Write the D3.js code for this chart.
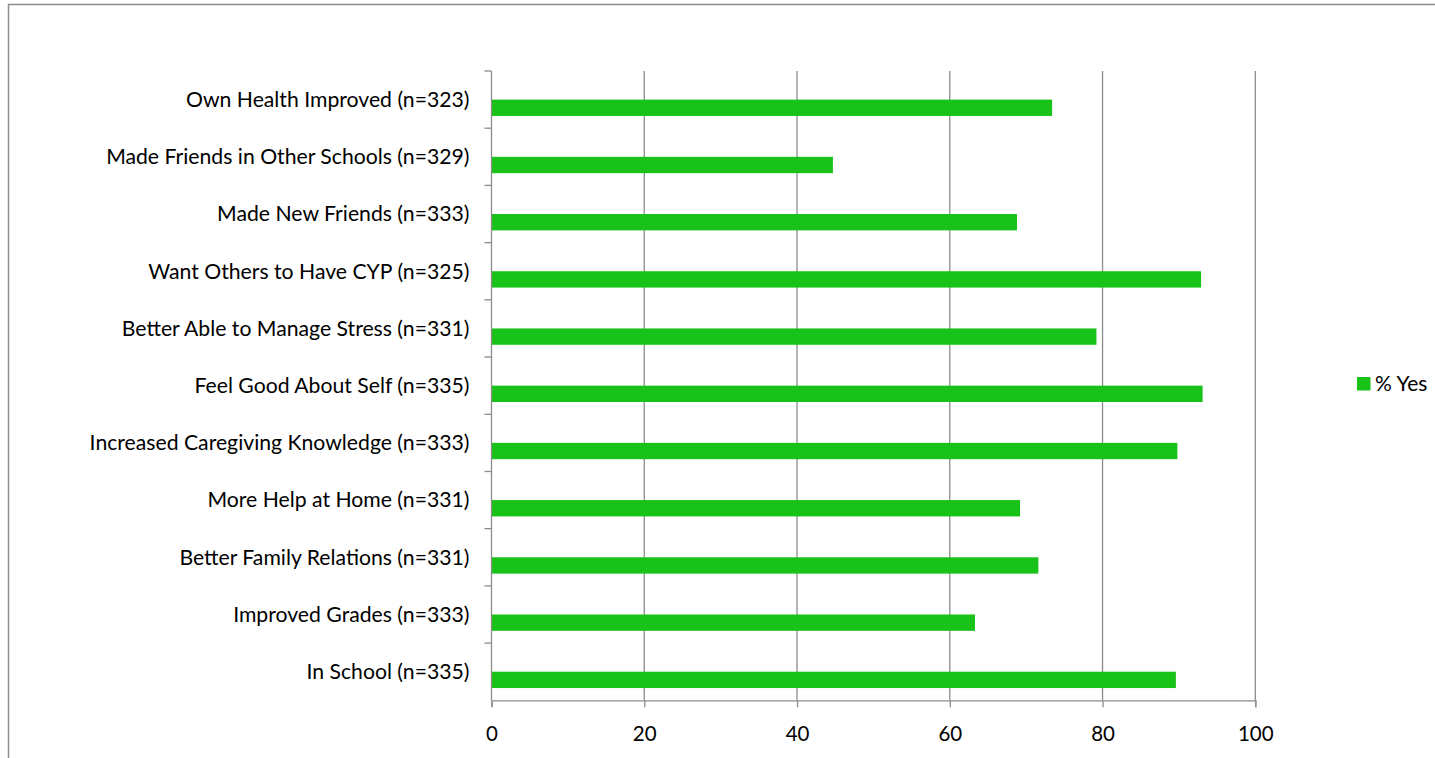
<!DOCTYPE html>
<html>
<head>
<meta charset="utf-8">
<script src="https://cdn.jsdelivr.net/npm/d3@7"></script>
<style>
  body { margin: 0; background: #fff; }
  text { font-family: Lato, 'Open Sans', sans-serif; fill: #000; }
</style>
</head>
<body>
<svg id="chart" width="1435" height="758"></svg>
<script>
// categories top to bottom, as in the picture
const categories = [
  'Own Health Improved (n=323)',
  'Made Friends in Other Schools (n=329)',
  'Made New Friends (n=333)',
  'Want Others to Have CYP (n=325)',
  'Better Able to Manage Stress (n=331)',
  'Feel Good About Self (n=335)',
  'Increased Caregiving Knowledge (n=333)',
  'More Help at Home (n=331)',
  'Better Family Relations (n=331)',
  'Improved Grades (n=333)',
  'In School (n=335)'
]
const yesValues = [73.4, 44.7, 68.8, 92.9, 79.2, 93.1, 89.8, 69.2, 71.6, 63.3, 89.6]
// the source chart had an empty first series, that is why the bar sits low in its slot
const seriesNames = ['', '% Yes']
const xTicks = [0, 20, 40, 60, 80, 100]

const green = '#19c219'
const grey = '#8c8c8c'

const svg = d3.select('#chart')

// outer chart border (only top and left show)
svg.append('rect')
  .attr('x', 8.5).attr('y', 4.5)
  .attr('width', 1460).attr('height', 800)
  .attr('fill', 'none').attr('stroke', grey).attr('stroke-width', 1.5)

const plotLeft = 491.5
const plotRight = 1255.3
const plotTop = 71
const plotBottom = 700.3

const x = d3.scaleLinear().domain([0, 100]).range([plotLeft, plotRight])
const y = d3.scaleBand().domain(categories).range([plotTop, plotBottom]).paddingInner(0).paddingOuter(0)
const ySeries = d3.scaleBand().domain(seriesNames).range([0, y.bandwidth()]).paddingInner(0).paddingOuter(0.75)

// gridlines
svg.append('g')
  .selectAll('line')
  .data(xTicks.filter(d => d > 0))
  .enter().append('line')
  .attr('x1', d => x(d)).attr('x2', d => x(d))
  .attr('y1', plotTop).attr('y2', plotBottom)
  .attr('stroke', grey).attr('stroke-width', 1.3)

// bars
svg.append('g')
  .selectAll('rect')
  .data(categories.map((c, i) => ({ cat: c, v: yesValues[i] })))
  .enter().append('rect')
  .attr('x', x(0))
  .attr('y', d => y(d.cat) + ySeries('% Yes'))
  .attr('width', d => x(d.v) - x(0))
  .attr('height', ySeries.bandwidth())
  .attr('fill', green)

// x axis
const xAxis = svg.append('g')
  .attr('transform', `translate(0,${plotBottom})`)
  .call(d3.axisBottom(x).tickValues(xTicks).tickSize(7).tickPadding(19))
xAxis.select('.domain').attr('stroke', grey).attr('stroke-width', 1.3)
xAxis.selectAll('.tick line').attr('stroke', grey).attr('stroke-width', 1.3)
xAxis.selectAll('.tick text').style('font-size', '20.5px').attr('fill', '#000')

// y axis, ticks at category boundaries
const yAxisG = svg.append('g').attr('transform', `translate(${plotLeft},0)`)
yAxisG.append('line')
  .attr('x1', 0).attr('x2', 0).attr('y1', plotTop).attr('y2', plotBottom)
  .attr('stroke', grey).attr('stroke-width', 1.3)
yAxisG.selectAll('.ytick')
  .data(categories)
  .enter().append('line')
  .attr('class', 'ytick')
  .attr('x1', -7).attr('x2', 0)
  .attr('y1', d => y(d)).attr('y2', d => y(d))
  .attr('stroke', grey).attr('stroke-width', 1.3)
yAxisG.selectAll('.ylabel')
  .data(categories)
  .enter().append('text')
  .attr('class', 'ylabel')
  .attr('x', -22)
  .attr('y', d => y(d) + y.bandwidth() / 2)
  .attr('dy', '0.35em')
  .attr('text-anchor', 'end')
  .style('font-size', '21.2px')
  .text(d => d)

// legend
const legend = svg.append('g').attr('transform', 'translate(1357,377)')
legend.append('rect').attr('width', 13.5).attr('height', 13.5).attr('fill', green)
legend.append('text')
  .attr('x', 18).attr('y', 7)
  .attr('dy', '0.35em')
  .style('font-size', '21px')
  .text(seriesNames[1])
</script>
</body>
</html>
